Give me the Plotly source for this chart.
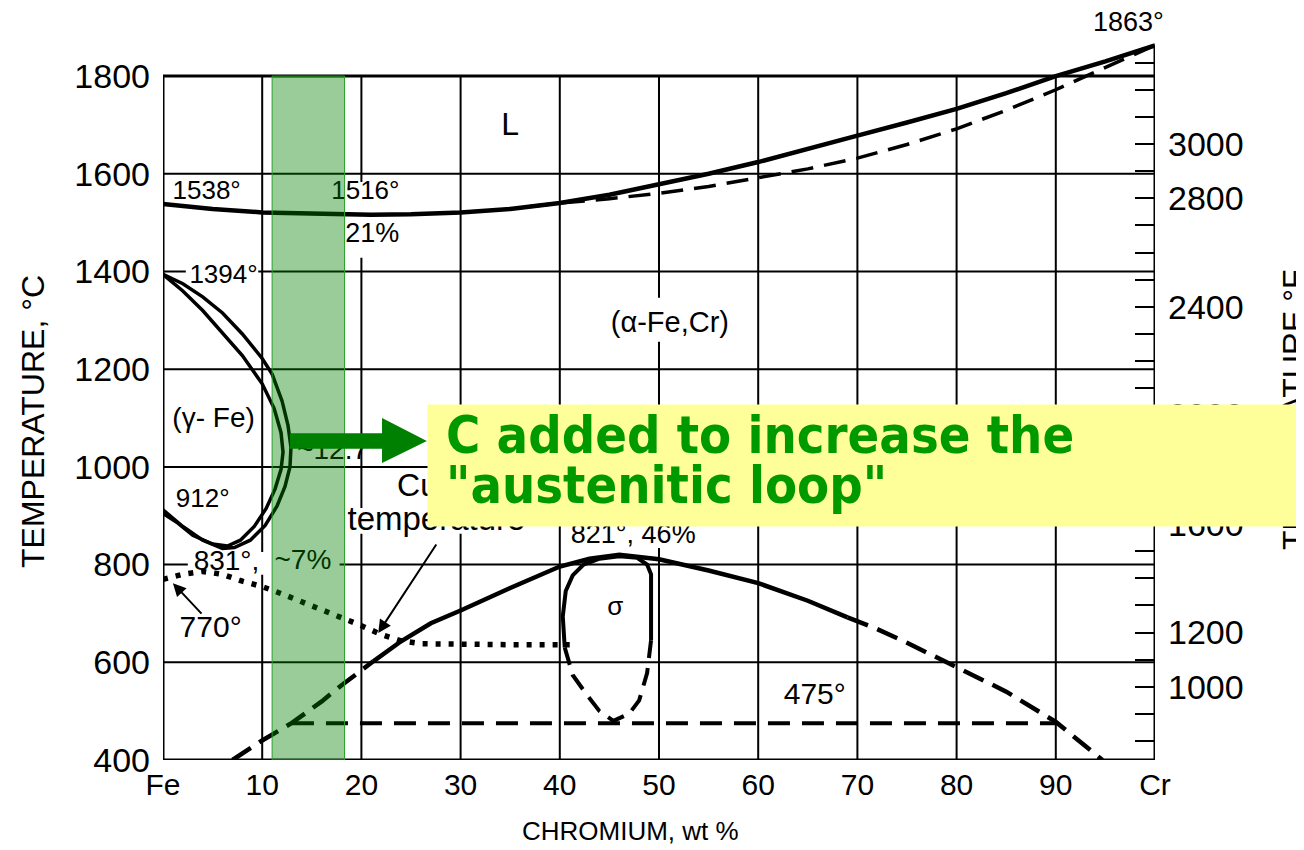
import plotly.graph_objects as go

# ---------------- data (wt% Cr, temperature in deg C) ----------------
liquidus_cr = [0, 5, 10, 15, 21, 25, 30, 35, 40, 45, 50, 55, 60, 65, 70, 75, 80, 85, 90, 95, 100]
liquidus_t = [1538, 1528, 1521, 1518, 1516, 1517, 1521, 1528, 1540, 1557, 1578, 1600, 1624, 1650, 1678, 1705, 1733, 1765, 1800, 1830, 1863]

solidus_cr = [37, 40, 45, 50, 55, 60, 65, 70, 75, 80, 85, 90, 95, 100]
solidus_t = [1533, 1540, 1549, 1560, 1574, 1592, 1610, 1632, 1660, 1692, 1730, 1772, 1818, 1863]

gamma_outer_cr = [0, 2, 4, 6, 8, 10, 11, 12, 12.6, 12.9, 12.8, 12.3, 11.5, 10.3, 8.8, 7.2, 6, 4, 2, 0]
gamma_outer_t = [1394, 1375, 1348, 1315, 1272, 1222, 1190, 1135, 1085, 1040, 1000, 960, 920, 880, 850, 835, 833, 850, 878, 912]

gamma_inner_cr = [0, 2, 4, 6, 8, 10, 11.2, 11.9, 12.1, 11.9, 11.3, 10.4, 9.2, 7.8, 6.5, 5, 3, 1.5, 0]
gamma_inner_t = [1394, 1360, 1320, 1275, 1228, 1170, 1120, 1070, 1030, 995, 955, 915, 878, 850, 838, 842, 860, 885, 905]

curie_cr = [0, 2, 4, 6, 8, 10, 12, 14, 16, 18, 20, 22, 24, 26, 30, 35, 41]
curie_t = [770, 780, 786, 780, 766, 755, 740, 724, 708, 691, 675, 657, 644, 638, 636, 636, 636]

sigma_left_cr = [7, 10, 13, 16, 18, 21.2]
sigma_left_t = [400, 440, 476, 520, 553, 602]
sigma_mid_cr = [21.2, 24, 27, 30, 35, 40, 43, 46, 50, 55, 60, 65, 69]
sigma_mid_t = [602, 643, 680, 706, 752, 796, 812, 820, 811, 788, 762, 726, 692]
sigma_right_cr = [69, 72, 75, 79, 85, 90, 94.7]
sigma_right_t = [692, 668, 640, 600, 540, 478, 400]

sigma_loop_solid_cr = [40.5, 40.3, 40.6, 41.3, 42.4, 44, 46, 47.8, 48.8, 49.2, 49.2, 49.2]
sigma_loop_solid_t = [630, 694, 746, 778, 800, 812, 817, 814, 800, 780, 700, 645]
sigma_loop_dash_cr = [40.5, 41.3, 42.7, 44, 45.4, 47, 48, 48.8, 49.2]
sigma_loop_dash_t = [630, 574, 534, 500, 480, 495, 522, 578, 645]

line475_cr = [13, 90]
line475_t = [475, 475]

band_cr = [11.0, 18.3]

x_tickvals = [0, 10, 20, 30, 40, 50, 60, 70, 80, 90, 100]
x_ticktext = ["Fe", "10", "20", "30", "40", "50", "60", "70", "80", "90", "Cr"]
y_tickvals = [400, 600, 800, 1000, 1200, 1400, 1600, 1800]
f_tickvals = list(range(800, 3301, 100))
f_labels = [1000, 1200, 1600, 2000, 2400, 2800, 3000]

labels = ["1538°", "1516°", "21%", "L", "1394°", "(α-Fe,Cr)", "(γ- Fe)", "912°",
          "831°,", "~7%", "~12.7", "770°", "Curie", "temperature", "821°, 46%", "σ", "475°"]
label_cr = [4.4, 20.4, 21.1, 35.0, 6.1, 51.1, 5.1, 4.0, 6.4, 14.1, 17.1, 4.8, 23.6, 18.6, 47.4, 45.6, 65.7]
label_t = [1561, 1561, 1475, 1696, 1389, 1290, 1096, 932, 803, 805, 1030, 668, 957, 887, 858, 711, 529]
label_size = [26, 26, 27, 32, 26, 29, 28, 26, 28, 28, 28, 30, 32, 33, 27, 26, 30]
label_pos = ["middle center"] * 12 + ["middle right", "middle right"] + ["middle center"] * 3

FONT = "Liberation Sans, Arial, sans-serif"
OFF = 8                      # page body margin
X0, PXW = 163 - OFF, 992     # left edge of plot area (figure px), width
Y0, PXH = 760 - OFF, 723     # bottom edge of plot area (figure px), height
T_LO, T_HI = 400, 1880       # plotted temperature range (deg C)
F_SHIFT = 12                 # the printed deg F scale sits slightly high

fig = go.Figure()

def line(x, y, width, dash=None):
    fig.add_trace(go.Scatter(x=x, y=y, mode="lines", hoverinfo="skip", showlegend=False,
                             line=dict(color="black", width=width, dash=dash)))

line(liquidus_cr, liquidus_t, 4.5)
line(solidus_cr, solidus_t, 3.5, "22px,11px")
line(gamma_outer_cr, gamma_outer_t, 3.5)
line(gamma_inner_cr, gamma_inner_t, 3.5)
line(curie_cr, curie_t, 5.5, "5px,8px")
line(sigma_left_cr, sigma_left_t, 4.5, "22px,10px")
line(sigma_mid_cr, sigma_mid_t, 4.5)
line(sigma_right_cr, sigma_right_t, 4.5, "22px,10px")
line(sigma_loop_solid_cr, sigma_loop_solid_t, 4)
line(sigma_loop_dash_cr, sigma_loop_dash_t, 4, "18px,10px")
line(line475_cr, line475_t, 4, "22px,12px")

fig.add_trace(go.Scatter(x=label_cr, y=label_t, mode="text", text=labels, textposition=label_pos,
                         textfont=dict(family=FONT, size=label_size, color="black"),
                         hoverinfo="skip", showlegend=False))

# invisible trace so the °F axis is drawn
fig.add_trace(go.Scatter(x=[0], y=[T_LO * 9 / 5 + 32], yaxis="y2", mode="markers",
                         marker=dict(opacity=0), hoverinfo="skip", showlegend=False))

shapes = []
for t in y_tickvals:
    shapes.append(dict(type="line", xref="x", yref="y", x0=0, x1=100, y0=t, y1=t, layer="below",
                       line=dict(color="black", width=3 if t in (400, 1800) else 2)))
for c in x_tickvals:
    shapes.append(dict(type="line", xref="x", yref="y", x0=c, x1=c, y0=400,
                       y1=liquidus_t[-1] if c == 100 else 1800, layer="below",
                       line=dict(color="black", width=3 if c in (0, 100) else 2)))
# white label backgrounds that interrupt the grid
for (xa, xb, ya, yb) in [(2.3, 9.6, 1362, 1413), (2.5, 17.8, 779, 826), (43.9, 58.4, 1256, 1346),
                         (16.6, 24.1, 1428, 1583), (18.3, 38.5, 863, 916), (40.6, 54.1, 834, 881)]:
    shapes.append(dict(type="rect", xref="x", yref="y", x0=xa, x1=xb, y0=ya, y1=yb, layer="below",
                       fillcolor="white", line=dict(width=0)))
# stainless band
shapes.append(dict(type="rect", xref="x", yref="y", x0=band_cr[0], x1=band_cr[1], y0=400, y1=1800,
                   layer="above", fillcolor="rgba(0,128,0,0.4)", line=dict(color="rgb(40,160,40)", width=1)))
# green block arrow
shapes.append(dict(type="path", xref="x", yref="y", layer="above",
                   path="M12.8,1069 L22.08,1069 L22.08,1100 L26.6,1053 L22.08,1008 L22.08,1037 L12.8,1037 Z",
                   fillcolor="#008000", line=dict(width=0)))

def px(xp):
    return (xp - OFF - X0) / PXW

def py(yp):
    return (Y0 - (yp - OFF)) / PXH

BOXFONT = "DejaVu Sans Condensed, Liberation Sans, sans-serif"
annotations = [
    dict(x=1.0, y=762, xref="x", yref="y", text="", showarrow=True, ax=30, ay=32,
         arrowhead=2, arrowsize=1.3, arrowwidth=2, arrowcolor="black", standoff=0),
    dict(x=21.7, y=660, xref="x", yref="y", text="", showarrow=True, ax=59, ay=-90,
         arrowhead=2, arrowsize=1.3, arrowwidth=2, arrowcolor="black", standoff=0),
    dict(x=px(1128), y=py(22), xref="paper", yref="paper", xanchor="center", yanchor="middle",
         text="1863°", showarrow=False, font=dict(family=FONT, size=27, color="black")),
    dict(x=px(33), y=py(422), xref="paper", yref="paper", xanchor="center", yanchor="middle",
         text="TEMPERATURE, °C", textangle=-90,
         showarrow=False, font=dict(family=FONT, size=32, color="black")),
    dict(x=px(630), y=py(831), xref="paper", yref="paper", xanchor="center", yanchor="middle",
         text="CHROMIUM, wt %",
         showarrow=False, font=dict(family=FONT, size=26, color="black")),
    dict(x=px(1294), y=py(410), xref="paper", yref="paper", xanchor="center", yanchor="middle",
         text="TEMPERATURE °F", textangle=-90,
         showarrow=False, font=dict(family=FONT, size=32, color="black")),
    dict(x=px(427), y=py(404), xref="paper", yref="paper", xanchor="left", yanchor="top",
         text=" ", showarrow=False, width=900, height=121, bgcolor="#FFFF99", borderpad=0),
    dict(x=px(444), y=py(435), xref="paper", yref="paper", xanchor="left", yanchor="middle",
         text="<b>C added to increase the</b>", showarrow=False,
         font=dict(family=BOXFONT, size=52, color="#009900")),
    dict(x=px(444), y=py(485), xref="paper", yref="paper", xanchor="left", yanchor="middle",
         text="<b>\"austenitic loop\"</b>", showarrow=False,
         font=dict(family=BOXFONT, size=52, color="#009900")),
]

fig.update_layout(
    width=1304, height=850, margin=dict(l=X0, r=1304 - X0 - PXW, t=Y0 - PXH, b=850 - Y0),
    paper_bgcolor="white", plot_bgcolor="white", showlegend=False,
    font=dict(family=FONT, color="black"),
    xaxis=dict(range=[0, 100], tickvals=x_tickvals, ticktext=x_ticktext, showgrid=False,
               zeroline=False, showline=False, ticks="", tickfont=dict(size=30),
               ticklabelstandoff=4),
    yaxis=dict(range=[T_LO, T_HI], tickvals=y_tickvals, showgrid=False, zeroline=False,
               showline=False, ticks="", tickfont=dict(size=34), ticklabelstandoff=12),
    yaxis2=dict(range=[(T_LO - F_SHIFT) * 9 / 5 + 32, (T_HI - F_SHIFT) * 9 / 5 + 32],
                overlaying="y", side="right",
                tickvals=f_tickvals, ticktext=[str(v) if v in f_labels else "" for v in f_tickvals],
                ticks="inside", ticklen=20, tickwidth=2, tickcolor="black", showgrid=False,
                zeroline=False, showline=False, tickfont=dict(size=34), ticklabelstandoff=12),
    shapes=shapes, annotations=annotations,
)

fig.write_html("out.html")
